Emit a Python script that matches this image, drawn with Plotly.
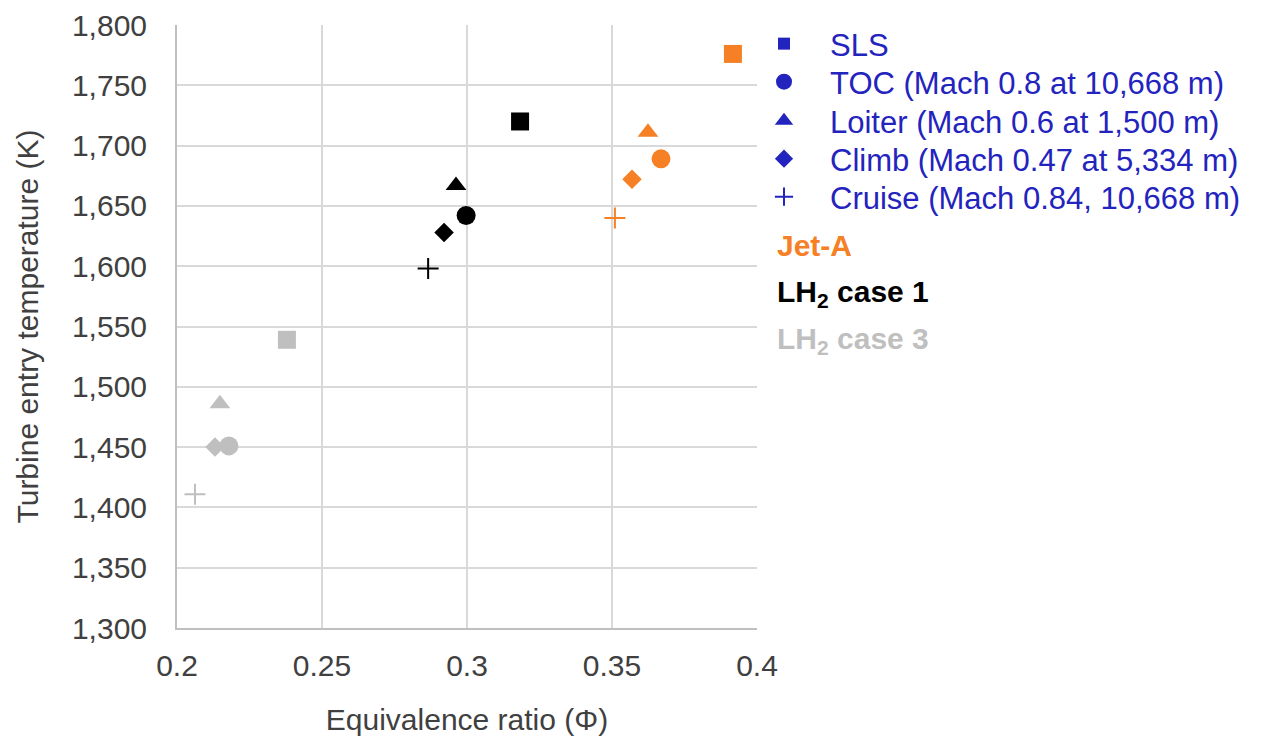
import plotly.graph_objects as go

conditions = ["SLS", "TOC (Mach 0.8 at 10,668 m)", "Loiter (Mach 0.6 at 1,500 m)",
              "Climb (Mach 0.47 at 5,334 m)", "Cruise (Mach 0.84, 10,668 m)"]
symbols = ["square", "circle", "triangle-up", "diamond", "cross-thin"]
sizes = [18, 19, 18, 15, 15]
legend_sizes = [12, 16, 16, 14, 13]

fuels = ["Jet-A", "LH<sub>2</sub> case 1", "LH<sub>2</sub> case 3"]
fuel_colors = ["#F58025", "#000000", "#BFBFBF"]

# equivalence ratio per fuel, ordered as conditions
phi_jet_a = [0.3917, 0.3669, 0.3624, 0.3569, 0.3510]
phi_lh2_c1 = [0.3183, 0.2997, 0.2962, 0.2921, 0.2866]
phi_lh2_c3 = [0.2379, 0.2179, 0.2148, 0.2131, 0.2062]
# turbine entry temperature (K)
tet_jet_a = [1776, 1689, 1711, 1672, 1640]
tet_lh2_c1 = [1720, 1642, 1667, 1628, 1598]
tet_lh2_c3 = [1539, 1451, 1486, 1450, 1411]

phis = [phi_jet_a, phi_lh2_c1, phi_lh2_c3]
tets = [tet_jet_a, tet_lh2_c1, tet_lh2_c3]

legend_color = "#2323BE"
FONT = "Liberation Sans, Arial, sans-serif"

# page geometry of the plot area (the page body adds an 8 px offset)
PL, PR, PT, PB = 177, 757, 25, 628


def px_to_paper_x(px):
    return (px - PL) / (PR - PL)


def px_to_paper_y(py):
    return 1 - (py - PT) / (PB - PT)


fig = go.Figure()
for f, color in enumerate(fuel_colors):
    for i, sym in enumerate(symbols):
        marker = dict(symbol=sym, size=sizes[i], color=color)
        if sym == "cross-thin":
            marker["line"] = dict(color=color, width=2)
        else:
            marker["line"] = dict(width=0)
        fig.add_trace(go.Scatter(x=[phis[f][i]], y=[tets[f][i]], mode="markers",
                                 marker=marker, showlegend=False, hoverinfo="x+y"))

legend_rows = [44, 82, 121, 159, 197]
legend_layouts = {}
for i, (name, sym) in enumerate(zip(conditions, symbols)):
    marker = dict(symbol=sym, size=legend_sizes[i], color=legend_color)
    if sym == "cross-thin":
        marker["line"] = dict(color=legend_color, width=2)
    else:
        marker["line"] = dict(width=0)
    lname = "legend" if i == 0 else f"legend{i + 1}"
    fig.add_trace(go.Scatter(x=[None], y=[None], mode="markers", name=name,
                             marker=marker, showlegend=True, legend=lname))
    legend_layouts[lname] = dict(
        x=px_to_paper_x(738), y=px_to_paper_y(legend_rows[i]),
        xanchor="left", yanchor="middle",
        font=dict(size=31, color=legend_color, family=FONT), itemwidth=82,
        bgcolor="rgba(0,0,0,0)", itemsizing="trace")

label_y = [245, 293, 340]
for f, (name, color) in enumerate(zip(fuels, fuel_colors)):
    fig.add_annotation(text=f"<b>{name}</b>", xref="paper", yref="paper",
                       x=px_to_paper_x(775), y=px_to_paper_y(label_y[f]),
                       xanchor="left", yanchor="middle", showarrow=False,
                       font=dict(size=30, color=color, family=FONT))

fig.update_layout(
    width=1261, height=735,
    margin=dict(l=PL - 8, r=1261 + 8 - PR, t=PT - 8, b=735 + 8 - PB, autoexpand=False),
    plot_bgcolor="white", paper_bgcolor="white",
    font=dict(family=FONT, size=30, color="#404040"),
    showlegend=True,
    xaxis=dict(range=[0.2, 0.4], dtick=0.05, tick0=0.2, showgrid=True,
               gridcolor="#D9D9D9", gridwidth=2, showline=True, linecolor="#BFBFBF",
               linewidth=2, zeroline=False, ticks="", ticklabelstandoff=10,
               tickfont=dict(size=30, color="#404040"),
               title=dict(text="Equivalence ratio (Φ)", standoff=28,
                          font=dict(size=30, color="#404040"))),
    yaxis=dict(range=[1300, 1800], dtick=50, tick0=1300, tickformat=",",
               showgrid=True, gridcolor="#D9D9D9", gridwidth=2, showline=True,
               linecolor="#BFBFBF", linewidth=2, zeroline=False, ticks="",
               ticklabelstandoff=22, tickfont=dict(size=30, color="#404040"),
               title=dict(text="Turbine entry temperature (K)", standoff=24,
                          font=dict(size=30, color="#404040"))),
    **legend_layouts,
)

fig.write_html("out.html")
